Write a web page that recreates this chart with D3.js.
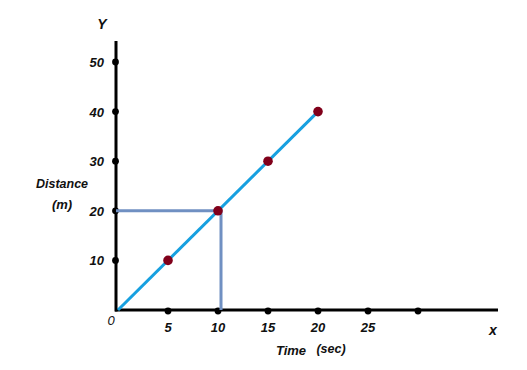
<!DOCTYPE html>
<html><head><meta charset="utf-8">
<script src="https://cdn.jsdelivr.net/npm/d3@7"></script>
<style>html,body{margin:0;padding:0;background:#fff;}svg{display:block;}text{font-family:"Liberation Sans",Arial,sans-serif;font-weight:bold;font-style:italic;fill:#111;}</style>
</head><body><svg id="c" width="527" height="370"></svg>
<script>
const xTicks = [5, 10, 15, 20, 25, 30];
const xTickLabels = ["5", "10", "15", "20", "25", ""];
const yTicks = [10, 20, 30, 40, 50];
const yTickLabels = ["10", "20", "30", "40", "50"];
const times = [5, 10, 15, 20];
const distances = [10, 20, 30, 40];
const lineTimes = [0, 20];
const lineDistances = [0, 40];
const guideTimes = [0, 10, 10];
const guideDistances = [20, 20, 0];

const svg = d3.select("#c");
const x = d3.scaleLinear().domain([0, 30]).range([118, 418]);
const y = d3.scaleLinear().domain([0, 50]).range([310, 62]);

// axes
svg.append("line").attr("x1", 116).attr("x2", 116).attr("y1", 41).attr("y2", 311.5)
  .attr("stroke", "#000").attr("stroke-width", 3);
svg.append("line").attr("x1", 115).attr("x2", 498).attr("y1", 310).attr("y2", 310)
  .attr("stroke", "#000").attr("stroke-width", 3);

// axis dots
svg.selectAll(".yd").data(yTicks).enter().append("circle")
  .attr("cx", 115.5).attr("cy", d => y(d)).attr("r", 3.4).attr("fill", "#000");
svg.selectAll(".xd").data(xTicks).enter().append("circle")
  .attr("cx", d => x(d)).attr("cy", 311).attr("r", 3.4).attr("fill", "#000");

// tick labels
svg.selectAll(".yl").data(yTicks).enter().append("text")
  .attr("x", 104).attr("y", d => y(d) + 5).attr("text-anchor", "end")
  .attr("font-size", 13).text((d, i) => yTickLabels[i]);
svg.selectAll(".xl").data(xTicks).enter().append("text")
  .attr("x", d => x(d)).attr("y", 332).attr("text-anchor", "middle")
  .attr("font-size", 13).text((d, i) => xTickLabels[i]);

// guide lines
svg.append("path").datum(guideTimes.map((t, i) => [t, guideDistances[i]]))
  .attr("d", d3.line().x((d, i) => i === 0 ? 116 : x(d[0]) + 3).y(d => y(d[1])))
  .attr("fill", "none").attr("stroke", "#7090c2").attr("stroke-width", 3);

// data line
svg.append("path").datum(lineTimes.map((t, i) => [t, lineDistances[i]]))
  .attr("d", d3.line().x(d => x(d[0])).y(d => y(d[1])))
  .attr("fill", "none").attr("stroke", "#17a0e0").attr("stroke-width", 3);

// data points
svg.selectAll(".pt").data(times).enter().append("circle")
  .attr("cx", d => x(d)).attr("cy", (d, i) => y(distances[i]))
  .attr("r", 4.8).attr("fill", "#80001a");

// titles
svg.append("text").attr("x", 102).attr("y", 29).attr("text-anchor", "middle").attr("font-size", 14).text("Y");
svg.append("text").attr("x", 62).attr("y", 188).attr("text-anchor", "middle").attr("font-size", 12.5).text("Distance");
svg.append("text").attr("x", 62).attr("y", 209).attr("text-anchor", "middle").attr("font-size", 13).text("(m)");
svg.append("text").attr("x", 111).attr("y", 325).attr("text-anchor", "middle").attr("font-size", 13).style("font-weight", "normal").text("0");
svg.append("text").attr("x", 493).attr("y", 335).attr("text-anchor", "middle").attr("font-size", 14).text("x");
svg.append("text").attr("x", 291).attr("y", 355).attr("text-anchor", "middle").attr("font-size", 13).text("Time");
svg.append("text").attr("x", 331).attr("y", 353).attr("text-anchor", "middle").attr("font-size", 12.5).text("(sec)");
</script></body></html>
